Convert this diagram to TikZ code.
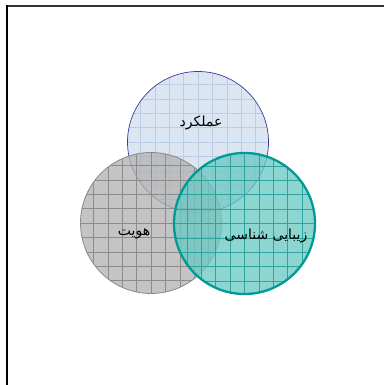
\documentclass[tikz,border=0pt]{standalone}
\usepackage{fontspec}
\newfontfamily\arabicfont[Script=Arabic]{DejaVu Sans}
\TeXXeTstate=1
\definecolor{setblue}{HTML}{DCE6F2}
\definecolor{setblueline}{HTML}{3B3B9C}
\definecolor{setbluegrid}{HTML}{BACDE6}
\definecolor{setgray}{HTML}{B3B3B3}
\definecolor{setgrayline}{HTML}{8A8A8A}
\definecolor{setgraygrid}{HTML}{8C8C8C}
\definecolor{setteal}{HTML}{6CC9C4}
\definecolor{settealline}{HTML}{009B96}
\definecolor{settealgrid}{HTML}{2FA39E}
\tikzset{
  vennset/.style={circle, minimum size=141pt, inner sep=0pt},
  gridded/.style={path picture={
      \draw[#1, line width=0.45pt, step=14.4pt]
        ([shift={(-1pt,-1pt)}]path picture bounding box.south west) grid
        (path picture bounding box.north east);}},
  setlabel/.style={font=\arabicfont\fontsize{14}{16}\selectfont}
}
\begin{document}
\begin{tikzpicture}[x=1pt, y=1pt]
    % Page frame
    \useasboundingbox (0,0) rectangle (384,385);
    \draw[black!80, line width=1.5pt] (6,379) -- (384,379);
    \draw[black, line width=2pt] (7,379.75) -- (7,0);

    % Sets
    \node[vennset, fill=setblue, draw=setblueline, line width=0.7pt,
          gridded=setbluegrid] (func) at (198,243) {};
    \node[vennset, fill=setgray, fill opacity=0.78, draw=setgrayline,
          line width=0.8pt, gridded=setgraygrid] (ident) at (151,162) {};
    \node[vennset, fill=setteal, fill opacity=0.78, draw=settealline,
          line width=2.3pt, gridded=settealgrid] (aesth) at (244.5,161.5) {};

    % Labels of sets
    \node[setlabel] (funclabel) at (201,262) {\beginR عملکرد\endR};
    \node[setlabel] (identlabel) at (134,151) {\beginR هویت\endR};
    \node[setlabel] (aesthlabel) at (266,149) {\beginR زیبایی شناسی\endR};
\end{tikzpicture}
\end{document}
